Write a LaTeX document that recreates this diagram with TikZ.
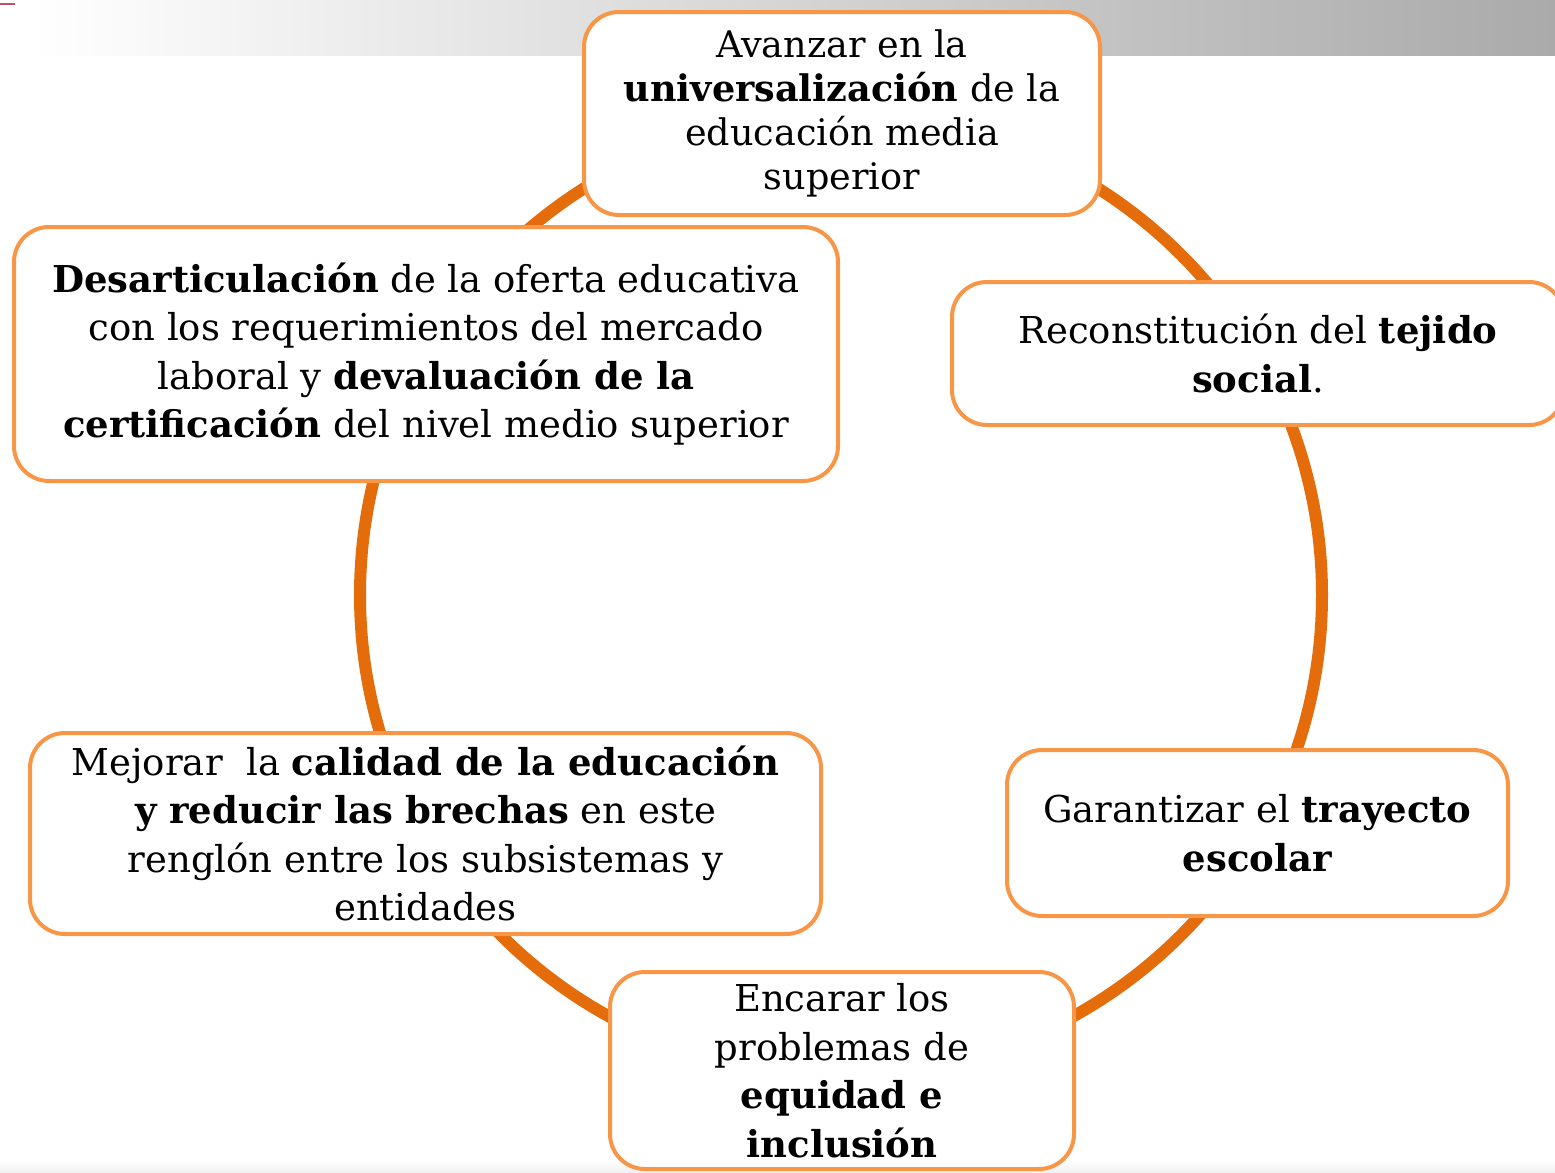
\documentclass[tikz,border=0pt]{standalone}
\usepackage{fontspec}
\setmainfont{DejaVu Serif}

\definecolor{ringorange}{HTML}{E46C0A}
\definecolor{boxorange}{HTML}{F79646}
\definecolor{bandmid}{RGB}{208,208,208}
\definecolor{bandend}{RGB}{170,170,170}
\definecolor{markpink}{RGB}{192,80,110}

\tikzset{
  goalbox/.style={draw=boxorange, line width=2pt, fill=white, rounded corners=17.5pt,
    align=center, inner sep=0pt, font=\fontsize{18.5pt}{24.3pt}\selectfont},
}

\begin{document}
\begin{tikzpicture}[x=0.5pt,y=-0.5pt]
  \useasboundingbox (0,0) rectangle (1555,1173);
  \clip (0,0) rectangle (1555,1173);
  % fondo de la diapositiva
  \shade[left color=white, middle color=bandmid, right color=bandend] (30,0) rectangle (1555,55);
  \draw[markpink, line width=1pt] (0,4) -- (15,4);
  \shade[top color=white, bottom color=gray!12] (0,1160) rectangle (1555,1173);

  % anillo
  \coordinate (ctr) at (841,595);
  \draw[ringorange, line width=6pt] (ctr) circle [radius=240.5pt];

  % cajas
  \node[goalbox, minimum width=258pt, minimum height=101.5pt,
    font=\fontsize{18.3pt}{22pt}\selectfont] (avanzar) at (842,113.5)
    {Avanzar en la\\ \textbf{universalización} de la\\ educación media\\ superior};
  \node[goalbox, minimum width=306pt, minimum height=71.5pt] (tejido) at (1258,353.5)
    {Reconstitución del \textbf{tejido}\\ \textbf{social}.};
  \node[goalbox, minimum width=250.5pt, minimum height=83pt] (trayecto) at (1257.5,833)
    {Garantizar el \textbf{trayecto}\\ \textbf{escolar}};
  \node[goalbox, minimum width=232pt, minimum height=98.5pt] (equidad) at (842,1070.5)
    {Encarar los\\ problemas de\\ \textbf{equidad e}\\ \textbf{inclusión}};
  \node[goalbox, minimum width=395.5pt, minimum height=100.5pt] (calidad) at (425.5,833.5)
    {Mejorar~ la \textbf{calidad de la educación}\\ \textbf{y reducir las brechas} en este\\ renglón entre los subsistemas y\\ entidades};
  \node[goalbox, minimum width=412pt, minimum height=127pt] (desart) at (426,354)
    {\textbf{Desarticulación} de la oferta educativa\\ con los requerimientos del mercado\\ laboral y \textbf{devaluación de la}\\ \textbf{certificación} del nivel medio superior};
\end{tikzpicture}
\end{document}
